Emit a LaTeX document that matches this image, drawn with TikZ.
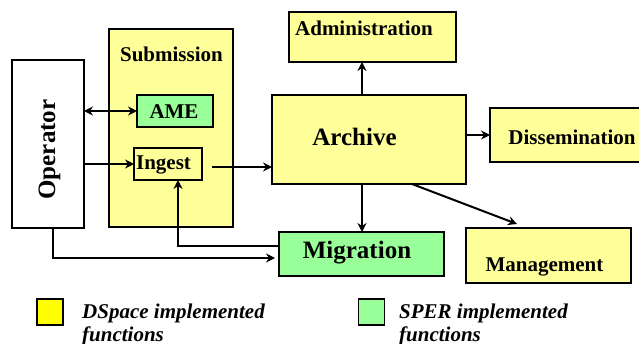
\documentclass[tikz,border=0pt]{standalone}
\usepackage{fontspec}
\setmainfont{Liberation Serif}
\usetikzlibrary{arrows.meta,calc}
\definecolor{ltyellow}{HTML}{FFFF99}
\definecolor{ltgreen}{HTML}{99FF99}
\definecolor{legyellow}{HTML}{FFFF00}
\begin{document}
\begin{tikzpicture}[x=1pt,y=-1pt,
  box/.style={draw=black,line width=2pt,inner sep=0pt,outer sep=0pt},
  ybox/.style={box,fill=ltyellow},
  gbox/.style={box,fill=ltgreen},
  lbl/.style={inner sep=0pt,anchor=base,font=\fontsize{21}{24}\selectfont\bfseries},
  big/.style={lbl,font=\fontsize{25}{28}\selectfont\bfseries},
  leg/.style={inner sep=0pt,anchor=base west,font=\fontsize{21}{24}\selectfont\bfseries\itshape},
  conn/.style={line width=2pt,-{Stealth[length=9pt,width=9pt]}},
  conn2/.style={line width=2pt,{Stealth[length=9pt,width=9pt]}-{Stealth[length=9pt,width=9pt]}}]
\useasboundingbox (0,0) rectangle (639,344);
% boxes
\node[box,fill=white,minimum width=72pt,minimum height=168pt] (op) at (48,144) {};
\node[ybox,minimum width=124pt,minimum height=198pt] (sub) at (171,128) {};
\node[gbox,minimum width=76pt,minimum height=32pt] (ame) at (175,111) {};
\node[ybox,minimum width=68pt,minimum height=32pt] (ing) at (168,164) {};
\node[ybox,minimum width=194pt,minimum height=89pt] (arc) at (369,139.5) {};
\node[ybox,minimum width=167pt,minimum height=50pt] (adm) at (372.5,37) {};
\node[ybox,minimum width=155pt,minimum height=54pt] (dis) at (567.5,135) {};
\node[gbox,minimum width=165pt,minimum height=44pt] (mig) at (361.5,254) {};
\node[ybox,minimum width=165pt,minimum height=55pt] (man) at (548.5,255.5) {};
\node[box,line width=1.4pt,fill=legyellow,minimum width=26pt,minimum height=26pt] (leg1) at (50,312) {};
\node[box,line width=1.4pt,fill=ltgreen,minimum width=26pt,minimum height=26pt] (leg2) at (371.5,312) {};
% texts
\node[big,rotate=90] (topl) at (55,149.5) {Operator};
\node[lbl] (tsub) at (171.5,62) {Submission};
\node[lbl] (tame) at (174,119) {AME};
\node[lbl] (ting) at (163.5,170) {Ingest};
\node[big] (tarc) at (354.5,146) {Archive};
\node[lbl] (tadm) at (364,36) {Administration};
\node[lbl] (tdis) at (572,145) {Dissemination};
\node[big] (tmig) at (357,259) {Migration};
\node[lbl] (tman) at (544.5,272) {Management};
\node[leg] (tl1a) at (82,318) {DSpace implemented};
\node[leg] (tl1b) at (82,341) {functions};
\node[leg] (tl2a) at (399,318) {SPER implemented};
\node[leg] (tl2b) at (399,341) {functions};
% connectors
\coordinate (ax) at (362,0);
\coordinate (ingout) at (212,167);
\coordinate (mantip) at (517,224);
\coordinate (manstart) at (412,184);
\coordinate (migback) at (279,246);
\coordinate (ingx) at (178,0);
\coordinate (opx) at (53,0);
\coordinate (oplow) at (0,258);
\draw[conn2] (op.east |- ame.west) -- (ame.west);
\draw[conn] (op.east |- ing.west) -- (ing.west);
\draw[conn] (ingout) -- (ingout -| arc.west);
\draw[conn] (arc.north -| ax) -- (adm.south -| ax);
\draw[conn] (arc.east |- dis.west) -- (dis.west);
\draw[conn] (arc.south -| ax) -- (mig.north -| ax);
\draw[conn] (manstart) -- (mantip);
\draw[conn] (migback) -| (ing.south -| ingx);
\draw[conn,shorten >=4pt] (op.south -| opx) |- (mig.west |- oplow);
\end{tikzpicture}
\end{document}
